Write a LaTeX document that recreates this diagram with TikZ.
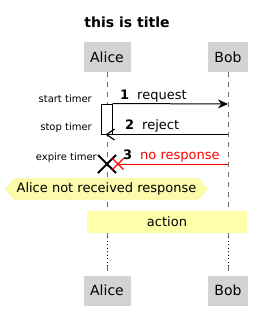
\documentclass[tikz,border=0pt]{standalone}
\usepackage{fontspec}
\setmainfont{DejaVu Sans}
\usetikzlibrary{arrows.meta,positioning,shapes.symbols,shapes.misc}
\definecolor{partbg}{HTML}{D3D3D3}
\definecolor{lifegray}{HTML}{6E6E6E}
\definecolor{noteyel}{HTML}{FBFBAB}
\definecolor{refyel}{HTML}{FFFFAA}
\definecolor{msgred}{HTML}{FF0000}

\begin{document}
\begin{tikzpicture}[x=1pt,y=-1pt,
  partbox/.style={fill=partbg,minimum height=30pt,inner sep=0pt,
                  font=\fontsize{14}{16}\selectfont},
  lifeline/.style={draw=lifegray,line width=0.6pt,dash pattern=on 5pt off 5pt},
  delayline/.style={draw=black,line width=0.7pt,dash pattern=on 1pt off 2.5pt},
  msg/.style={-{Stealth[length=10pt,width=9pt]},line width=1pt},
  msgopen/.style={-{Straight Barb[length=8pt,width=11pt,line width=1.2pt]},line width=1pt},
  msglbl/.style={font=\fontsize{13}{15}\selectfont,inner sep=0pt,anchor=base west},
  timerlbl/.style={font=\fontsize{10}{12}\selectfont,inner sep=0pt,anchor=east},
  xmark/.style={cross out,draw,inner sep=0pt}]
  \useasboundingbox (0,0) rectangle (258,313);
  \node[font=\fontsize{14}{16}\selectfont\bfseries] (title) at (127,22) {this is title};
  \node[partbox,minimum width=47pt] (aliceT) at (107,57) {Alice};
  \node[partbox,minimum width=40pt] (bobT) at (228,57) {Bob};
  \node[partbox,minimum width=47pt] (aliceB) at (107,290.5) {Alice};
  \node[partbox,minimum width=40pt] (bobB) at (228,290.5) {Bob};
  % lifelines, dotted part for the delay
  \coordinate (aliceD1) at (107,237);
  \coordinate (aliceD2) at (107,266);
  \coordinate (bobD1) at (228,237);
  \coordinate (bobD2) at (228,266);
  \draw[lifeline] (aliceT.south) -- (aliceD1);
  \draw[delayline] (aliceD1) -- (aliceD2);
  \draw[lifeline] (aliceD2) -- (aliceB.north);
  \draw[lifeline] (bobT.south) -- (bobD1);
  \draw[delayline] (bobD1) -- (bobD2);
  \draw[lifeline] (bobD2) -- (bobB.north);
  % activation
  \node[draw,fill=white,line width=1pt,minimum width=11pt,minimum height=30pt,
        inner sep=0pt] (act) at (106.5,119) {};
  \coordinate (bob1) at (228,104);
  \coordinate (bob2) at (228,134.5);
  \coordinate (alice2) at (105.5,134.5);
  \coordinate (bob3) at (228,164);
  \draw[msg] (act.north east) -- (bob1);
  \draw[msgopen] (bob2) -- (alice2);
  \node[msglbl] (lbl1) at (120,99.5) {\textbf{1}\hspace{8pt}request};
  \node[msglbl] (lbl2) at (125,129.5) {\textbf{2}\hspace{8pt}reject};
  % lost message
  \node[xmark,line width=2pt,minimum size=16pt] (expire) at (107,164) {};
  \node[xmark,draw=msgred,line width=1.2pt,minimum size=10pt] (lost) at (118,164) {};
  \draw[msgred,line width=1pt] (bob3) -- (lost.center);
  \node[msglbl] (lbl3) at (123,159) {\textbf{3}\hspace{8pt}\textcolor{msgred}{no response}};
  % timers
  \node[timerlbl] (tStart) at (92,99) {start timer};
  \node[timerlbl] (tStop) at (92,128) {stop timer};
  \node[timerlbl] (tExpire) at (97,158) {expire timer};
  % note and ref
  \node[signal,signal to=west and east,signal pointer angle=100,fill=noteyel,
        minimum width=203pt,minimum height=22pt,inner sep=0pt,
        font=\fontsize{13}{15}\selectfont] (note) at (106.5,189)
       {Alice not received response};
  \node[fill=refyel,minimum width=160pt,minimum height=22pt,inner sep=0pt,
        font=\fontsize{13}{15}\selectfont] (action) at (167,222) {action};
\end{tikzpicture}
\end{document}
